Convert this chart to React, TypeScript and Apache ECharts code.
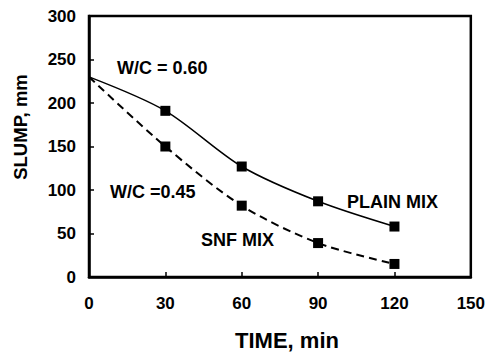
import React, { useEffect, useRef } from "react";
import * as echarts from "echarts";

const times = [0, 30, 60, 90, 120];
const plainMix = [230, 191, 127, 87, 58];
const snfMix = [230, 150, 82, 39, 15];
const xTicks = [0, 30, 60, 90, 120, 150];
const yTicks = [0, 50, 100, 150, 200, 250, 300];

const FONT = "'Liberation Sans', Arial, sans-serif";

function toData(vals: number[]) {
  return times.map((t, i) =>
    i === 0 ? { value: [t, vals[i]], symbol: "none" } : { value: [t, vals[i]] }
  );
}

const txt = (text: string, x: number, y: number, size: number, extra: any = {}) => ({
  type: "text",
  x,
  y,
  ...extra,
  style: {
    text,
    fontFamily: FONT,
    fontWeight: "bold",
    fontSize: size,
    fill: "#000",
    align: extra.align || "left",
    verticalAlign: "middle",
  },
});

export default function App() {
  const ref = useRef<HTMLDivElement>(null);
  useEffect(() => {
    if (!ref.current) return;
    const chart = echarts.init(ref.current, undefined, { renderer: "svg" });
    chart.setOption({
      animation: false,
      backgroundColor: "#fff",
      grid: {
        left: 89,
        top: 16,
        right: 16,
        bottom: 76,
        show: true,
        borderColor: "#000",
        borderWidth: 2.5,
      },
      xAxis: {
        type: "value",
        min: xTicks[0],
        max: xTicks[xTicks.length - 1],
        interval: 30,
        axisLine: { show: true, lineStyle: { color: "#000", width: 2.5 } },
        axisTick: { show: true, inside: true, length: 5, lineStyle: { color: "#000", width: 1.5 } },
        axisLabel: { margin: 18, fontFamily: FONT, fontWeight: "bold", fontSize: 17, color: "#000" },
        splitLine: { show: false },
      },
      yAxis: {
        type: "value",
        min: yTicks[0],
        max: yTicks[yTicks.length - 1],
        interval: 50,
        axisLine: { show: true, lineStyle: { color: "#000", width: 2.5 } },
        axisTick: { show: true, inside: true, length: 5, lineStyle: { color: "#000", width: 1.5 } },
        axisLabel: { margin: 13, fontFamily: FONT, fontWeight: "bold", fontSize: 17, color: "#000" },
        splitLine: { show: false },
      },
      series: [
        {
          name: "PLAIN MIX",
          type: "line",
          smooth: 0.3,
          data: toData(plainMix),
          symbol: "rect",
          symbolSize: 10,
          itemStyle: { color: "#000" },
          lineStyle: { color: "#000", width: 1.5, type: "solid" },
        },
        {
          name: "SNF MIX",
          type: "line",
          smooth: 0.3,
          data: toData(snfMix),
          symbol: "rect",
          symbolSize: 10,
          itemStyle: { color: "#000" },
          lineStyle: { color: "#000", width: 2, type: [8, 5] },
        },
      ],
      graphic: [
        txt("W/C = 0.60", 117, 68, 18),
        txt("W/C =0.45", 110, 192, 18),
        txt("PLAIN MIX", 347, 202, 18),
        txt("SNF MIX", 201, 240, 18),
        txt("TIME, min", 287, 340, 22, { align: "center" }),
        txt("SLUMP, mm", 20, 127, 18.5, { align: "center", rotation: Math.PI / 2 }),
      ],
    });
    return () => chart.dispose();
  }, []);
  return <div ref={ref} style={{ width: 488, height: 353, position: "absolute", left: 0, top: 0 }} />;
}
